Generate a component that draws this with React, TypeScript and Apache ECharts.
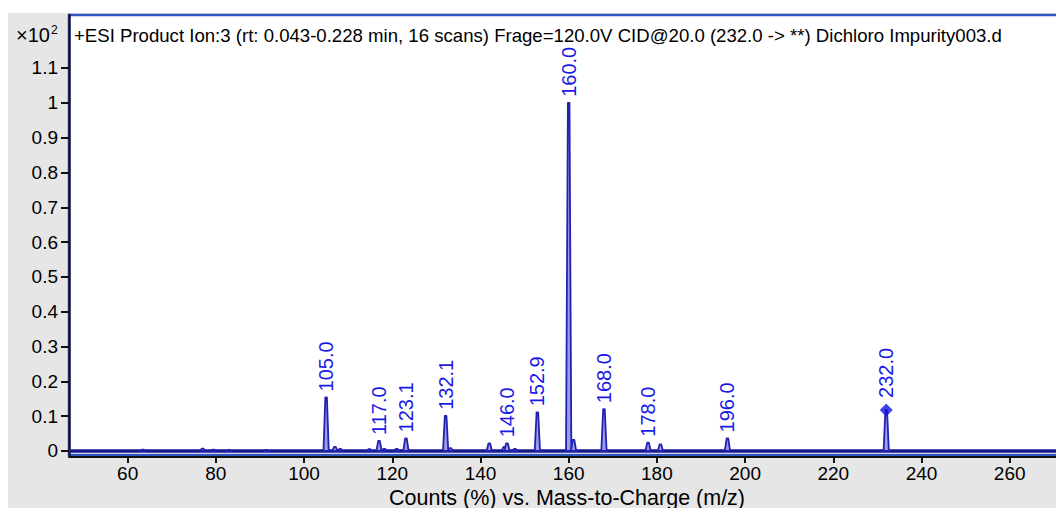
import React, { useEffect, useRef } from "react";
import * as echarts from "echarts";

// Product-ion spectrum, intensities in units of 10^2 counts
const peakMz = [
  63.5, 77.0, 79.5, 83.0, 91.5, 105.0, 107.0, 108.2, 114.8, 117.0, 118.2, 121.0, 123.1,
  132.1, 133.2, 142.0, 145.4, 146.0, 147.8, 152.9, 160.0, 161.1, 168.0, 178.0, 180.8,
  196.0, 232.0,
];
const peakIntensity = [
  0.004, 0.007, 0.004, 0.003, 0.003, 0.154, 0.012, 0.006, 0.005, 0.029, 0.006, 0.006, 0.036,
  0.101, 0.008, 0.022, 0.012, 0.022, 0.006, 0.111, 1.0, 0.032, 0.12, 0.024, 0.019,
  0.036, 0.118,
];
const peakLabels = [
  "", "", "", "", "", "105.0", "", "", "", "117.0", "", "", "123.1",
  "132.1", "", "", "", "146.0", "", "152.9", "160.0", "", "168.0", "178.0", "",
  "196.0", "232.0",
];
const precursorMz = [232.0];
const precursorIntensity = [0.118];

const xTickValues = [60, 80, 100, 120, 140, 160, 180, 200, 220, 240, 260];
const yTickLabels = ["0", "0.1", "0.2", "0.3", "0.4", "0.5", "0.6", "0.7", "0.8", "0.9", "1", "1.1"];
const yTickValues = yTickLabels.map(Number);

const X_MIN = 46.7;
const X_MAX = 270.95;
const Y_MIN = -0.0115;
const Y_MAX = 1.2522;

const titleText =
  "+ESI Product Ion:3 (rt: 0.043-0.228 min, 16 scans) Frage=120.0V CID@20.0 (232.0 -> **) Dichloro Impurity003.d";
const xAxisTitle = "Counts (%) vs. Mass-to-Charge (m/z)";

const FONT = "'Liberation Sans', Arial, Helvetica, sans-serif";
const TRACE = "#2222b0";
const LABEL = "#1a1ae6";

export default function App() {
  const ref = useRef<HTMLDivElement>(null);

  useEffect(() => {
    if (!ref.current) return;
    const chart = echarts.init(ref.current, undefined, { renderer: "svg" });

    const peakData = peakMz.map((mz, i) => [mz, peakIntensity[i], i]);
    const precursorSet = new Set(precursorMz);

    chart.setOption({
      animation: false,
      backgroundColor: "#ffffff",
      textStyle: { fontFamily: FONT },
      graphic: [
        {
          type: "rect",
          z: -10,
          silent: true,
          shape: { x: 8, y: 13, width: 1100, height: 520 },
          style: { fill: "#e6e6e6" },
        },
        {
          type: "text",
          x: 16,
          y: 35,
          style: { text: "×10", font: `20px ${FONT}`, fill: "#000", verticalAlign: "middle" },
        },
        {
          type: "text",
          x: 51,
          y: 30,
          style: { text: "2", font: `12px ${FONT}`, fill: "#000", verticalAlign: "middle" },
        },
        {
          type: "text",
          x: 74,
          y: 35,
          z: 10,
          style: { text: titleText, font: `18.6px ${FONT}`, fill: "#000", verticalAlign: "middle" },
        },
        {
          type: "text",
          x: 567,
          y: 498,
          style: {
            text: xAxisTitle,
            font: `21.5px ${FONT}`,
            fill: "#000",
            align: "center",
            verticalAlign: "middle",
          },
        },
      ],
      grid: {
        left: 69,
        top: 15,
        right: -2,
        bottom: 53,
        outerBoundsMode: "none",
        show: true,
        backgroundColor: "#ffffff",
        borderColor: "#2f55c0",
        borderWidth: 2.5,
      },
      xAxis: {
        type: "value",
        min: X_MIN,
        max: X_MAX,
        offset: 2,
        splitLine: { show: false },
        axisLine: { show: true, onZero: false, lineStyle: { color: "#111", width: 2 } },
        axisTick: {
          show: true,
          length: 6,
          customValues: xTickValues,
          lineStyle: { color: "#111", width: 2 },
        },
        axisLabel: {
          customValues: xTickValues,
          color: "#000",
          fontSize: 19,
          fontFamily: FONT,
          margin: 7,
        },
      },
      yAxis: {
        type: "value",
        min: Y_MIN,
        max: Y_MAX,
        splitLine: { show: false },
        axisLine: { show: true, onZero: false, lineStyle: { color: "#14143c", width: 2.5 } },
        axisTick: {
          show: true,
          length: 8,
          customValues: yTickValues,
          lineStyle: { color: "#111", width: 2 },
        },
        axisLabel: {
          customValues: yTickValues,
          formatter: (v: number) => String(Number(v)),
          color: "#000",
          fontSize: 19,
          fontFamily: FONT,
          margin: 11,
        },
      },
      series: [
        {
          type: "line",
          data: [
            [X_MIN, 0],
            [X_MAX, 0],
          ],
          symbol: "none",
          lineStyle: { color: "#1a1a8e", width: 3.5 },
          z: 2,
          silent: true,
        },
        {
          type: "custom",
          data: peakData,
          z: 3,
          silent: true,
          renderItem: (params: any, api: any) => {
            const mz = api.value(0);
            const h = api.value(1);
            const idx = api.value(2);
            const base = api.coord([mz, 0]);
            const top = api.coord([mz, h]);
            const halfBase = api.size([0.6, 0])[0];
            const halfTop = api.size([0.18, 0])[0];
            const children: any[] = [
              {
                type: "polygon",
                shape: {
                  points: [
                    [base[0] - halfBase, base[1]],
                    [top[0] - halfTop, top[1]],
                    [top[0] + halfTop, top[1]],
                    [base[0] + halfBase, base[1]],
                  ],
                },
                style: { fill: "#9c9cea", stroke: TRACE, lineWidth: 1.8, lineJoin: "round" },
              },
            ];
            const lbl = peakLabels[idx];
            if (lbl) {
              const gap = precursorSet.has(mz) ? 12 : 6;
              children.push({
                type: "text",
                x: top[0],
                y: top[1] - gap,
                rotation: Math.PI / 2,
                style: {
                  text: lbl,
                  font: `20px ${FONT}`,
                  fill: LABEL,
                  align: "left",
                  verticalAlign: "middle",
                },
              });
            }
            return { type: "group", children };
          },
        },
        {
          type: "scatter",
          data: precursorMz.map((mz, i) => [mz, precursorIntensity[i]]),
          symbol: "diamond",
          symbolSize: [13, 13],
          itemStyle: { color: "#1414e0" },
          z: 4,
          silent: true,
        },
      ],
    });

    return () => chart.dispose();
  }, []);

  return (
    <div
      ref={ref}
      style={{ position: "fixed", left: 0, top: 0, width: 1056, height: 508 }}
    />
  );
}
